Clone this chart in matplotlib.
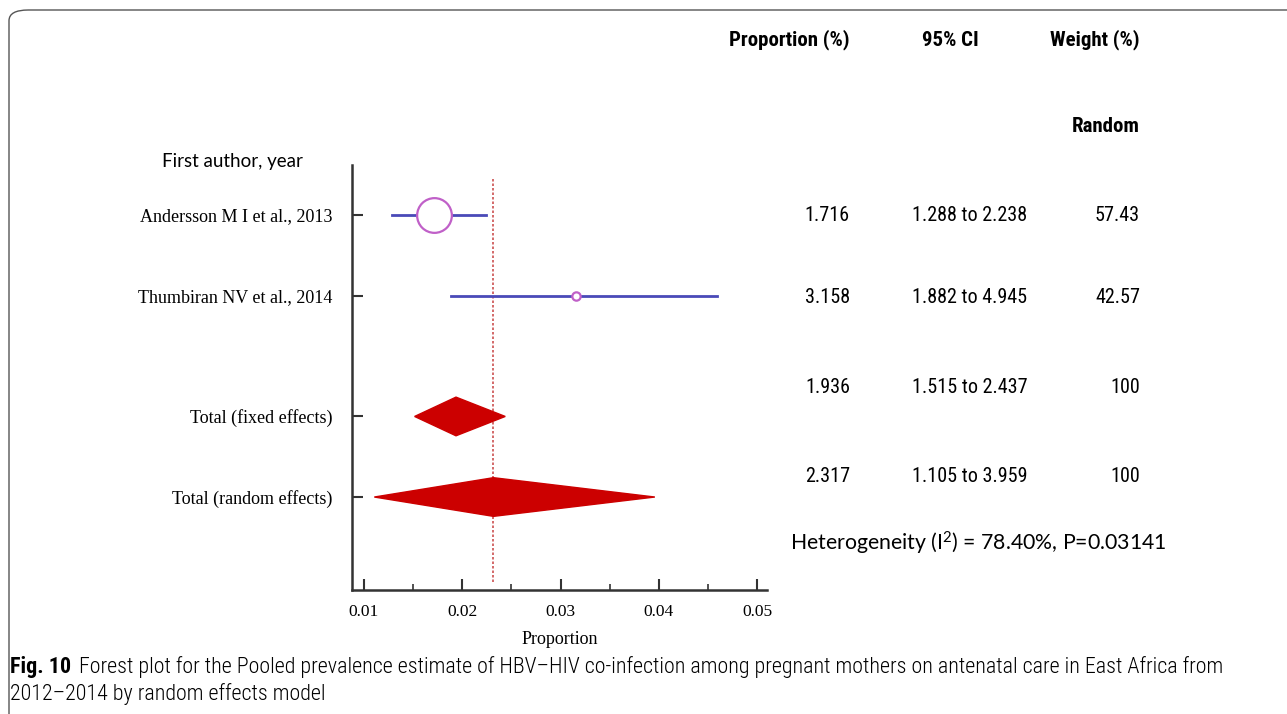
import matplotlib
matplotlib.use("Agg")
import matplotlib.pyplot as plt
from matplotlib import font_manager
from matplotlib.patches import FancyBboxPatch, Polygon
from matplotlib.ticker import MultipleLocator

# ---------------- data ----------------
studies = ["Andersson M I et al., 2013", "Thumbiran NV et al., 2014"]
study_est = [0.01716, 0.03158]
study_lo = [0.01288, 0.01882]
study_hi = [0.02238, 0.04590]          # drawn extent
study_msize = [25, 6]                  # marker size ~ weight

pooled = ["Total (fixed effects)", "Total (random effects)"]
pooled_est = [0.01936, 0.02317]
pooled_lo = [0.01515, 0.01105]
pooled_hi = [0.02437, 0.03959]

row_labels = studies + pooled
row_pos = [1.0, 2.0, 3.5, 4.5]

prop_txt = ["1.716", "3.158", "1.936", "2.317"]
ci_txt = ["1.288 to 2.238", "1.882 to 4.945", "1.515 to 2.437", "1.105 to 3.959"]
weight_txt = ["57.43", "42.57", "100", "100"]

xticks = [0.01, 0.02, 0.03, 0.04, 0.05]
xtick_labels = ["0.01", "0.02", "0.03", "0.04", "0.05"]

# ---------------- fonts ----------------
avail = {f.name for f in font_manager.fontManager.ttflist}
narrow = None
for cand in ["Liberation Sans Narrow", "Roboto Condensed", "Open Sans Condensed", "DejaVu Sans Condensed"]:
    if cand in avail:
        narrow = cand
        break
NARROW = [narrow] if narrow else ["Liberation Sans"]
SERIF = ["Liberation Serif", "DejaVu Serif"]
SANS = ["Lato", "DejaVu Sans"]
plt.rcParams["mathtext.fontset"] = "custom"
plt.rcParams["mathtext.rm"] = "Lato"
plt.rcParams["mathtext.it"] = "Lato:italic"
plt.rcParams["mathtext.bf"] = "Lato:bold"

W, H = 1287, 714
fig = plt.figure(figsize=(W / 100, H / 100), dpi=100)

def fx(px):
    return px / W

def fy(py):
    return 1 - py / H

# border with rounded top-left corner
border = FancyBboxPatch((fx(9), fy(760)), fx(1400), fy(10) - fy(760),
                        boxstyle="round,pad=0,rounding_size=0.015",
                        transform=fig.transFigure, fill=False,
                        edgecolor="#555555", linewidth=1.0, clip_on=False)
fig.patches.append(border)

ax = fig.add_axes([fx(352), fy(590), fx(767) - fx(352), fy(165) - fy(590)])
ax.set_xlim(0.00878, 0.0510)
ax.set_ylim(5.654, 0.379)

for s in ["top", "right"]:
    ax.spines[s].set_visible(False)
for s in ["left", "bottom"]:
    ax.spines[s].set_linewidth(1.8)
    ax.spines[s].set_color("#333333")

# studies
for y, e, lo, hi, ms in zip(row_pos[:2], study_est, study_lo, study_hi, study_msize):
    ax.plot([lo, hi], [y, y], color="#4a4ab8", lw=2.0, zorder=2)
    ax.plot([e], [y], marker="o", ms=ms, mfc="white", mec="#c060c8", mew=1.6, zorder=3)

# pooled diamonds
for y, e, lo, hi in zip(row_pos[2:], pooled_est, pooled_lo, pooled_hi):
    h = 0.24
    ax.add_patch(Polygon([[lo, y], [e, y - h], [hi, y], [e, y + h]],
                         closed=True, facecolor="#cc0000", edgecolor="#cc0000", zorder=3))

ax.axvline(pooled_est[1], ymin=0.019, ymax=0.969, color="#cc5050", lw=1.2,
           ls=(0, (1.5, 1.2)), zorder=1)

ax.set_yticks(row_pos)
ax.set_yticklabels(row_labels, family=SERIF, fontsize=13)
ax.tick_params(axis="y", direction="in", length=8, width=1.5, pad=14, color="#333333")

ax.set_xticks(xticks)
ax.set_xticklabels(xtick_labels, family=SERIF, fontsize=12.5)
ax.xaxis.set_minor_locator(MultipleLocator(0.005))
ax.tick_params(axis="x", which="major", direction="in", length=8, width=1.5, pad=10, color="#333333")
ax.tick_params(axis="x", which="minor", direction="in", length=4, width=1.2, color="#333333")
ax.set_xlabel("Proportion", family=SERIF, fontsize=13, labelpad=8)

fig.text(fx(162), fy(162), "First author, year", family=SANS,
         fontsize=13.5, ha="left", va="center")

# table headers
hdr = dict(family=NARROW, fontsize=15, fontweight="bold", va="center")
fig.text(fx(850), fy(40), "Proportion (%)", ha="right", **hdr)
fig.text(fx(950), fy(40), "95% CI", ha="center", **hdr)
fig.text(fx(1140), fy(40), "Weight (%)", ha="right", **hdr)
fig.text(fx(1140), fy(126), "Random", ha="right", **hdr)

text_rows = [215, 297, 388, 476]
cell = dict(family=NARROW, fontsize=14.5, va="center")
for py, p, c, w in zip(text_rows, prop_txt, ci_txt, weight_txt):
    fig.text(fx(850), fy(py), p, ha="right", **cell)
    fig.text(fx(970), fy(py), c, ha="center", **cell)
    fig.text(fx(1140), fy(py), w, ha="right", **cell)

fig.text(fx(790), fy(543), "Heterogeneity (I${}^{\\mathrm{2}}$) = 78.40%, P=0.03141",
         family=SANS, fontsize=15.3, ha="left", va="center")

# caption
cap = dict(family=NARROW, fontsize=15.8, va="center")
t1 = fig.text(fx(10), fy(667), "Fig. 10", fontweight="bold", ha="left", **cap)
fig.canvas.draw()
bb = t1.get_window_extent()
fig.text(bb.x1 / W + fx(8), fy(667),
         "Forest plot for the Pooled prevalence estimate of HBV\u2013HIV co-infection among pregnant mothers on antenatal care in East Africa from",
         ha="left", fontweight="light", **cap)
fig.text(fx(10), fy(694), "2012\u20132014 by random effects model", ha="left",
         fontweight="light", **cap)

fig.savefig("out.png", dpi=100)
